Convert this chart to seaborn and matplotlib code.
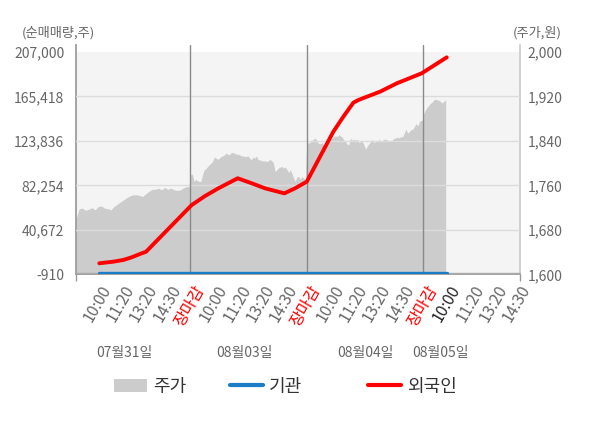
import matplotlib
matplotlib.use('Agg')
import matplotlib.pyplot as plt
import matplotlib.transforms as mtransforms
from matplotlib.patches import Patch
from matplotlib.lines import Line2D
import seaborn as sns
import numpy as np
import pandas as pd

sns.set_theme(style='white')
plt.rcParams['font.family'] = ['Noto Sans CJK KR', 'DejaVu Sans']

# ---------------- data ----------------
tick_labels = ['10:00', '11:20', '13:20', '14:30', '장마감',
               '10:00', '11:20', '13:20', '14:30', '장마감',
               '10:00', '11:20', '13:20', '14:30', '장마감',
               '10:00', '11:20', '13:20', '14:30']
tick_colors = ['#666666', '#666666', '#666666', '#666666', '#ff0000',
               '#666666', '#666666', '#666666', '#666666', '#ff0000',
               '#666666', '#666666', '#666666', '#666666', '#ff0000',
               '#222222', '#666666', '#666666', '#666666']
date_labels = ['07월31일', '08월03일', '08월04일', '08월05일']
date_pos = [2.18, 7.33, 12.51, 15.75]

left_ticks = [-910, 40672, 82254, 123836, 165418, 207000]
right_ticks = [1600, 1680, 1760, 1840, 1920, 2000]

price_day1 = [1700, 1718, 1719, 1715, 1717, 1720, 1716, 1722, 1723, 1719, 1718,
              1716, 1722, 1726, 1730, 1734, 1738, 1741, 1743, 1743, 1742, 1740,
              1745, 1749, 1753, 1753, 1755, 1752, 1756, 1753, 1755, 1752, 1751,
              1752, 1756, 1758, 1757]
price_day2 = [1780, 1780, 1767, 1771, 1768, 1767, 1767, 1779, 1788, 1790, 1794,
              1797, 1800, 1803, 1811, 1809, 1807, 1809, 1812, 1813, 1815, 1818,
              1816, 1815, 1819, 1819, 1818, 1816, 1816, 1815, 1813, 1813, 1812,
              1812, 1813, 1809, 1806, 1811, 1809, 1813, 1806, 1806, 1804, 1804,
              1804, 1803, 1804, 1807, 1804, 1801, 1785, 1788, 1791, 1793, 1794,
              1791, 1793, 1789, 1783, 1788, 1782, 1773, 1767, 1775, 1776, 1771,
              1776, 1773, 1770]
price_day3 = [1839, 1836, 1837, 1841, 1843, 1845, 1841, 1835, 1835, 1837, 1833,
              1830, 1836, 1839, 1842, 1845, 1847, 1849, 1848, 1851, 1849, 1847,
              1842, 1839, 1834, 1833, 1845, 1841, 1843, 1841, 1843, 1837, 1839,
              1839, 1833, 1825, 1831, 1835, 1839, 1843, 1837, 1839, 1839, 1843,
              1839, 1841, 1843, 1843, 1841, 1839, 1839, 1842, 1845, 1845, 1847,
              1845, 1848, 1847, 1854, 1861, 1854, 1857, 1860, 1861, 1866, 1871,
              1867, 1875, 1877, 1877]
price_day4 = [1887, 1893, 1899, 1903, 1907, 1909, 1913, 1915, 1914, 1913, 1911,
              1908, 1911, 1914]
day_spans = [(0.11, 5.0), (5.03, 9.95), (10.01, 14.99), (15.0, 15.97)]

flow_x = [1.107, 1.708, 2.137, 2.498, 2.854, 3.112, 5.073, 5.644, 6.215, 7.047,
          7.648, 8.219, 9.047, 9.506, 10.009, 10.579, 11.15, 11.579, 12.009,
          12.223, 13.155, 13.871, 14.944, 16.017]
foreign = [9400, 10900, 12500, 15000, 18100, 20200, 63900, 72300, 79500, 88900,
           84200, 79500, 74800, 79500, 85700, 109100, 132500, 146500, 159600,
           162100, 169900, 177700, 187100, 202000]
institution = [0, 0, 0, 0, 0, 0, 0, 0, 0, 0, 0, 0, 0, 0, 0, 0, 0, 0, 0, 0, 0,
               0, 0, 0]

# ---------------- figure ----------------
W, H = 600, 428
fig = plt.figure(figsize=(W / 100, H / 100), dpi=100)
ax = fig.add_axes([76 / W, 1 - 274.3 / H, 444 / W, (274.3 - 45) / H])
ax2 = ax.twinx()
ax.yaxis.tick_right()
ax2.yaxis.tick_left()

xmin, xmax = 0.107, 19.16
left_top = 207000 + 7 * (207910 / 222.3)
right_top = 1600 + (left_top + 910) / 207910 * 400
ax.set_xlim(xmin, xmax)
ax.set_ylim(1600, right_top)
ax2.set_ylim(-910, left_top)

# price area (right axis)
ax.axhspan(1600, 2000, color='#f4f4f4', lw=0, zorder=0)
px = np.concatenate([np.linspace(a, b, len(p)) for (a, b), p in
                     zip(day_spans, [price_day1, price_day2, price_day3, price_day4])])
pv = np.concatenate([price_day1, price_day2, price_day3, price_day4])
ax.fill_between(px, pv, 1600, color='#cccccc', lw=0, zorder=1)

# grid + separators on the line axis (above area)
for v in left_ticks[1:-1]:
    ax2.axhline(v, color='#dcdcdc', lw=1, zorder=1)
for b in [5, 10, 15]:
    ax2.axvline(b, color='#8a8a8a', lw=1, zorder=1)
ax2.axhline(0, color='#aaaaaa', lw=1, zorder=1)

df = pd.DataFrame({'x': flow_x, 'foreign': foreign, 'inst': institution})
sns.lineplot(data=df, x='x', y='inst', ax=ax2, color='#1a7dc6', lw=2.4, zorder=3)
sns.lineplot(data=df, x='x', y='foreign', ax=ax2, color='#ff0000', lw=2.8, zorder=4)
ax2.set_xlabel('')
ax2.set_ylabel('')
ax.set_xlabel('')
ax.set_ylabel('')

# ticks
ax2.set_yticks(left_ticks)
ax2.set_yticklabels([f'{v:,}' for v in left_ticks])
ax.set_yticks(right_ticks)
ax.set_yticklabels([f'{v:,}' for v in right_ticks])
ax2.tick_params(axis='y', length=0, pad=8.5, labelsize=10, labelcolor='#666666')
ax.tick_params(axis='y', length=0, pad=5.5, labelsize=10, labelcolor='#666666')

ax.set_xticks(range(1, 20))
ax.set_xticklabels(tick_labels, rotation=60, ha='right', rotation_mode='anchor')
ax.tick_params(axis='x', which='major', length=0, pad=6, labelsize=11.5)
offset = mtransforms.ScaledTranslation(3 / 100, 0, fig.dpi_scale_trans)
for lbl, c in zip(ax.get_xticklabels(), tick_colors):
    lbl.set_color(c)
    lbl.set_transform(lbl.get_transform() + offset)
ax.set_xticks([xmin, 5, 10, 15, xmax], minor=True)
ax.tick_params(axis='x', which='minor', length=5, width=1, color='#999999', bottom=True)

ax.spines['top'].set_visible(False)
ax.spines['left'].set_color('#999999')
ax.spines['bottom'].set_color('#999999')
ax.spines['right'].set_color('#cccccc')
for s in ax2.spines.values():
    s.set_visible(False)

# date labels
tr = mtransforms.blended_transform_factory(ax.transData, fig.transFigure)
for d, p in zip(date_labels, date_pos):
    ax.text(p, 1 - 353.3 / H, d, transform=tr, ha='center', va='center',
            fontsize=10, color='#666666')

# axis titles
fig.text(22 / W, 1 - 33 / H, '(순매매량,주)', ha='left', va='center', fontsize=9.5, color='#666666')
fig.text(562 / W, 1 - 33 / H, '(주가,원)', ha='right', va='center', fontsize=9.5, color='#666666')

# legend (three entries, placed individually)
entries = [(Patch(facecolor='#cccccc', edgecolor='none'), '주가', 114),
           (Line2D([], [], color='#1a7dc6', lw=3), '기관', 230),
           (Line2D([], [], color='#ff0000', lw=3), '외국인', 368)]
for h, t, xs in entries:
    leg = fig.legend([h], [t], loc='center left', bbox_to_anchor=(xs / W, 1 - 386.7 / H),
                     frameon=False, fontsize=13, handlelength=1.8, handleheight=0.8,
                     handletextpad=0.35, borderpad=0, borderaxespad=0,
                     labelcolor='#333333')

fig.savefig('out.png', dpi=100)
